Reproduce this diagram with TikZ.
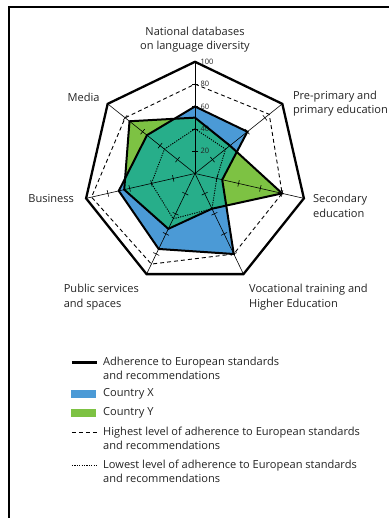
\documentclass[tikz,border=0pt]{standalone}
\usepackage{fontspec}
\setmainfont{Open Sans}
\usetikzlibrary{positioning}

\definecolor{countryx}{RGB}{75,154,214}
\definecolor{countryy}{RGB}{125,194,67}
\definecolor{overlap}{RGB}{39,174,138}
\definecolor{labelgrey}{RGB}{35,35,35}

\begin{document}
\begin{tikzpicture}[
    x=1bp, y=1bp,
    every node/.style={inner sep=0pt, text=labelgrey, font=\fontsize{11.1}{14.5}\selectfont},
    scalelabel/.style={anchor=west, font=\fontsize{7.5}{8}\selectfont},
    spoke/.style={line width=0.6bp},
    rim/.style={line width=2.3bp, line join=miter},
    highline/.style={line width=0.9bp, dash pattern=on 4bp off 3bp},
    lowline/.style={line width=0.9bp, dash pattern=on 1.2bp off 1.2bp},
    datashape/.style={line width=2bp, line join=miter},
    legendtext/.style={anchor=north west, align=left}
]
\useasboundingbox (-195,-344.5) rectangle (194,173.5);

% frame
\draw[line width=2.3bp] (-186.2,-344.5) -- (-186.2,166.5) -- (194,166.5);

% axis ends and data points, 100 = 111.7bp
\coordinate (centre) at (0,0);
\foreach \i in {0,...,6}
    \coordinate (ax\i) at ({90-\i*360/7}:111.7);
\foreach \v [count=\i from 0] in {60,60,25,80,75,70,55}
    \coordinate (x\i) at ({90-\i*360/7}:1.117*\v);
\foreach \v [count=\i from 0] in {50,40,80,35,55,65,75}
    \coordinate (y\i) at ({90-\i*360/7}:1.117*\v);
\foreach \v [count=\i from 0] in {80,85,80,80,90,95,80}
    \coordinate (h\i) at ({90-\i*360/7}:1.117*\v);
\foreach \v [count=\i from 0] in {40,35,20,35,45,40,35}
    \coordinate (l\i) at ({90-\i*360/7}:1.117*\v);

% areas
\fill[countryx] (x0) -- (x1) -- (x2) -- (x3) -- (x4) -- (x5) -- (x6) -- cycle;
\fill[countryy] (y0) -- (y1) -- (y2) -- (y3) -- (y4) -- (y5) -- (y6) -- cycle;
\begin{scope}
    \clip (x0) -- (x1) -- (x2) -- (x3) -- (x4) -- (x5) -- (x6) -- cycle;
    \fill[overlap] (y0) -- (y1) -- (y2) -- (y3) -- (y4) -- (y5) -- (y6) -- cycle;
\end{scope}

% spokes with ticks
\foreach \i in {0,...,6} {
    \draw[spoke] (centre) -- (ax\i);
    \foreach \t in {20,40,60,80}
        \draw[spoke] ({90-\i*360/7}:1.117*\t) ++({-\i*360/7}:3.3) -- ++({180-\i*360/7}:6.6);
}
\foreach \t in {20,40,60,80,100}
    \node[scalelabel] at (5.5,1.117*\t) {\t};

\draw[highline] (h0) -- (h1) -- (h2) -- (h3) -- (h4) -- (h5) -- (h6) -- cycle;
\draw[lowline] (l0) -- (l1) -- (l2) -- (l3) -- (l4) -- (l5) -- (l6) -- cycle;
\draw[rim] (ax0) -- (ax1) -- (ax2) -- (ax3) -- (ax4) -- (ax5) -- (ax6) -- cycle;

\draw[datashape] (x0) -- (x1) -- (x2) -- (x3) -- (x4) -- (x5) -- (x6) -- cycle;
\draw[datashape] (y0) -- (y1) -- (y2) -- (y3) -- (y4) -- (y5) -- (y6) -- cycle;

% axis names
\node[above=9bp of ax0, align=center] (natdb) {National databases\\on language diversity};
\node[right=10.5bp of ax1, align=left] (preprim) {Pre-primary and\\primary education};
\node[right=9bp of ax2, yshift=-7.6bp, align=left] (second) {Secondary\\education};
\node[below right=10bp and 5.5bp of ax3, align=left] (vocat) {Vocational training and\\Higher Education};
\node[below left=10bp and 7.5bp of ax4, align=left] (public) {Public services\\and spaces};
\node[left=12bp of ax5] (business) {Business};
\node[left=8bp of ax6, yshift=7bp] (media) {Media};

% legend
\node[legendtext] (legrule) at (-92,-183) {Adherence to European standards\\and recommendations};
\node[legendtext] (legx) at (-92,-215) {Country X};
\node[legendtext] (legy) at (-92,-234) {Country Y};
\node[legendtext] (leghigh) at (-92,-253) {Highest level of adherence to European standards\\and recommendations};
\node[legendtext] (leglow) at (-92,-286) {Lowest level of adherence to European standards\\and recommendations};

\draw[line width=2.3bp] ([shift={(-31,-6)}]legrule.north west) -- ([shift={(-6,-6)}]legrule.north west);
\fill[countryx] ([shift={(-32,-1)}]legx.north west) rectangle ([shift={(-7,-9)}]legx.north west);
\fill[countryy] ([shift={(-32,-1)}]legy.north west) rectangle ([shift={(-7,-9)}]legy.north west);
\draw[highline] ([shift={(-31,-5.5)}]leghigh.north west) -- ([shift={(-6,-5.5)}]leghigh.north west);
\draw[lowline] ([shift={(-31,-5.5)}]leglow.north west) -- ([shift={(-6,-5.5)}]leglow.north west);

\end{tikzpicture}
\end{document}
